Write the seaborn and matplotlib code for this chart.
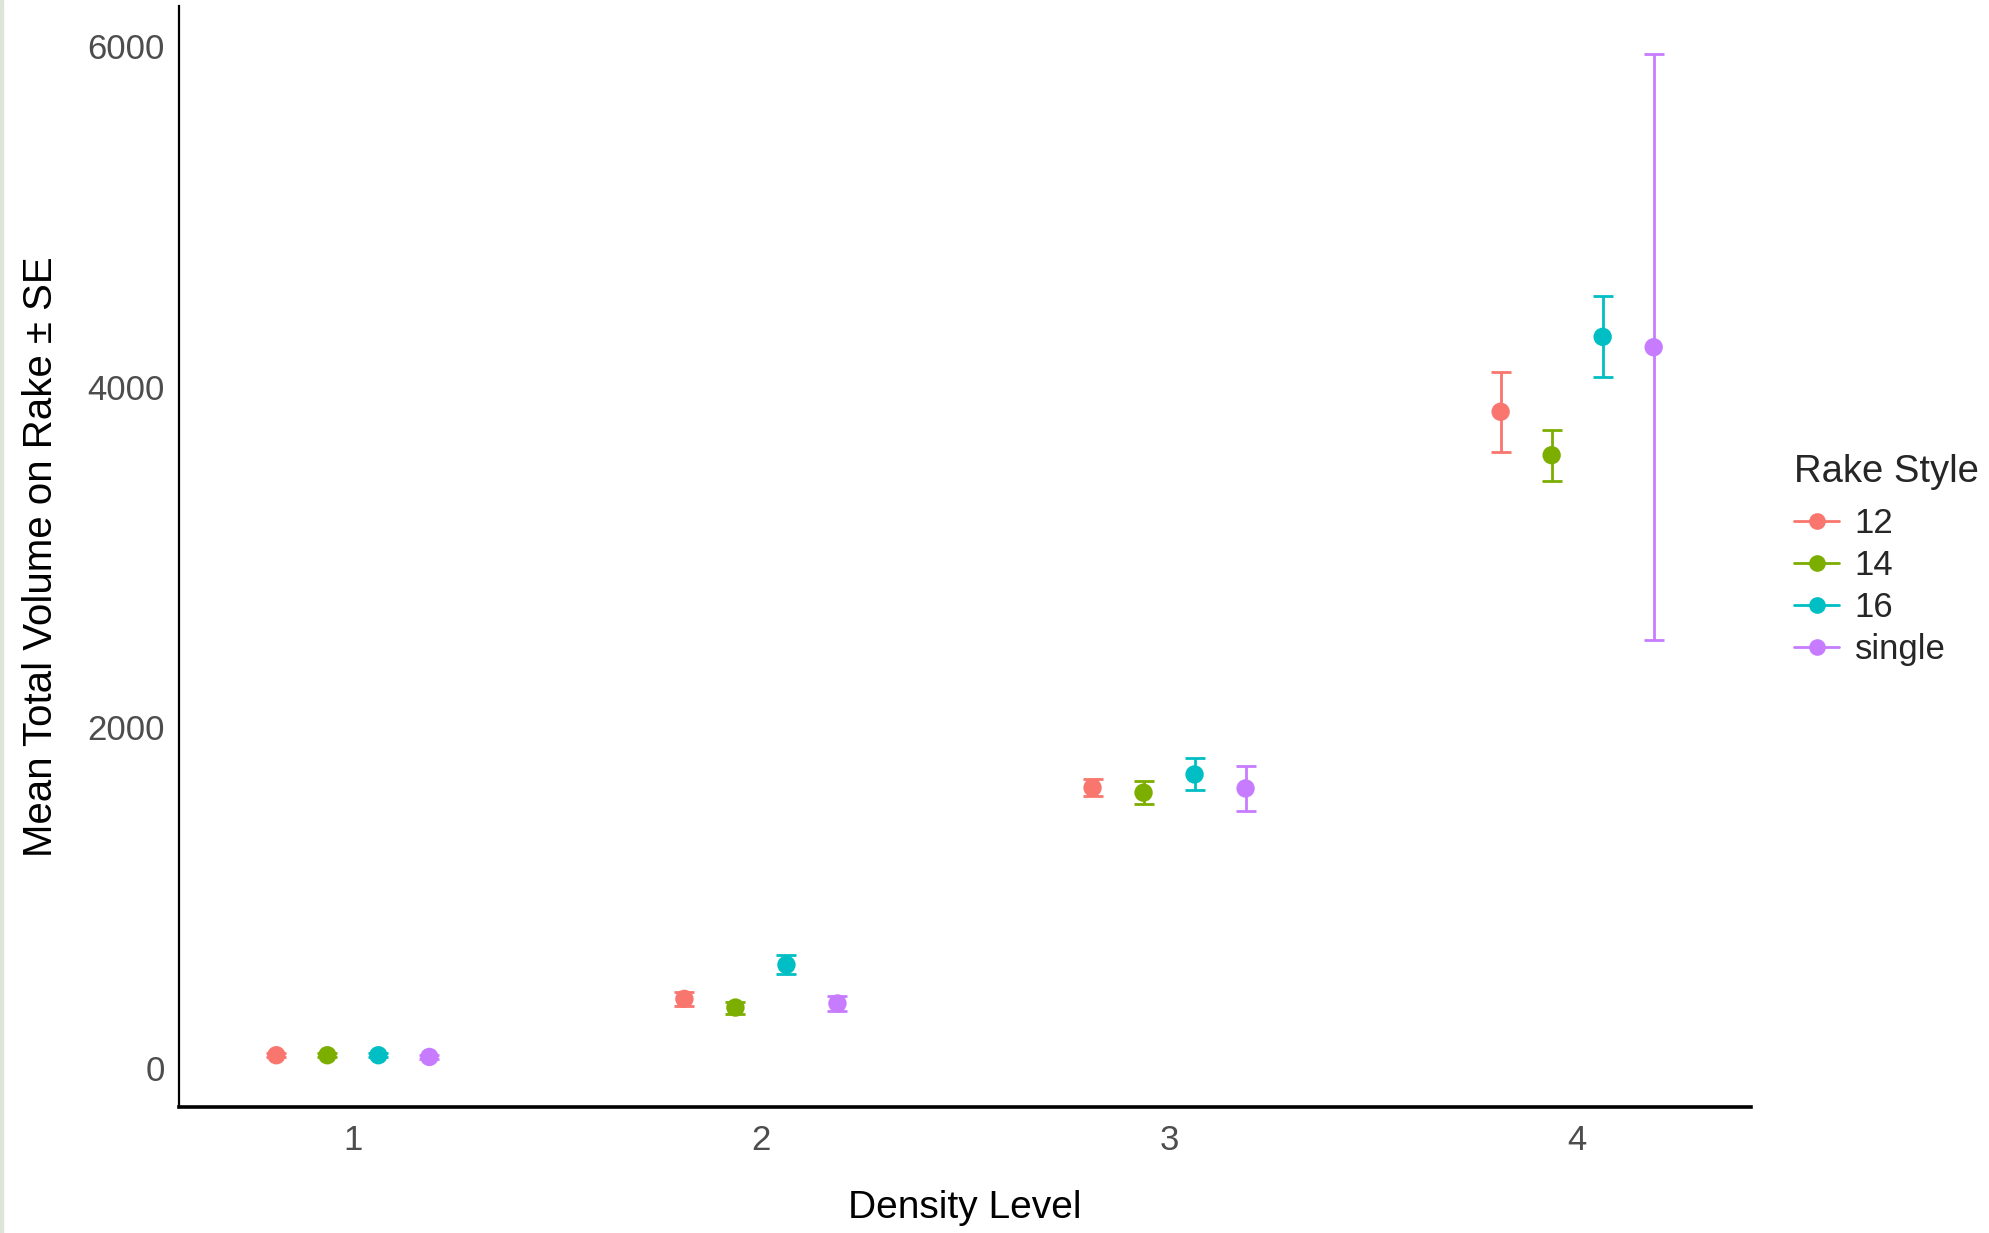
import matplotlib
matplotlib.use("Agg")
import matplotlib.pyplot as plt
from matplotlib.lines import Line2D
import seaborn as sns
import numpy as np
import pandas as pd

# ---- data ----
density_levels = [1, 2, 3, 4]
rake_styles = ["12", "14", "16", "single"]
mean_12 = [73, 404, 1644, 3852]
se_12 = [12, 40, 51, 236]
mean_14 = [73, 353, 1615, 3597]
se_14 = [12, 35, 68, 150]
mean_16 = [73, 604, 1722, 4292]
se_16 = [12, 55, 94, 237]
mean_single = [63, 377, 1640, 4231]
se_single = [10, 42, 134, 1721]
palette = ["#F8766D", "#7CAE00", "#00BFC4", "#C77CFF"]

means = {"12": mean_12, "14": mean_14, "16": mean_16, "single": mean_single}
ses = {"12": se_12, "14": se_14, "16": se_16, "single": se_single}

rows = []
dodge_width = 0.5
n = len(rake_styles)
for j, style in enumerate(rake_styles):
    offset = -dodge_width / 2 + dodge_width / n * (j + 0.5)
    for i, lvl in enumerate(density_levels):
        rows.append({"Density": lvl, "x": lvl + offset, "Style": style,
                     "mean": means[style][i], "se": ses[style][i]})
df = pd.DataFrame(rows)

sns.set_theme(style="white")
plt.rcParams["font.family"] = ["Liberation Sans", "DejaVu Sans"]

fig = plt.figure(figsize=(19.89, 12.33), dpi=100)
ax = fig.add_axes([179 / 1989, 1 - 1107 / 1233, (1751 - 179) / 1989, (1107 - 6) / 1233])

for style, color in zip(rake_styles, palette):
    sub = df[df["Style"] == style]
    ax.errorbar(sub["x"], sub["mean"], yerr=sub["se"], fmt="none",
                ecolor=color, elinewidth=2.0, capsize=7.5, capthick=2.0, zorder=2)

sns.scatterplot(data=df, x="x", y="mean", hue="Style", hue_order=rake_styles,
                palette=palette, s=175, edgecolor="none", legend=False, ax=ax, zorder=3)

ax.set_xlim(0.574, 4.426)
ax.set_ylim(-231, 6235)
ax.set_xticks(density_levels)
ax.set_xticklabels([str(v) for v in density_levels])
ax.set_yticks([0, 2000, 4000, 6000])
ax.tick_params(axis="both", length=0, labelsize=25, labelcolor="#4D4D4D")
ax.tick_params(axis="x", pad=12)
ax.tick_params(axis="y", pad=10)
ax.set_xlabel("Density Level", fontsize=28, color="black", labelpad=24)
ax.set_ylabel("Mean Total Volume on Rake ± SE", fontsize=29, color="black", labelpad=20)

for side in ["top", "right"]:
    ax.spines[side].set_visible(False)
ax.spines["left"].set_color("black")
ax.spines["left"].set_linewidth(1.6)
ax.spines["bottom"].set_color("black")
ax.spines["bottom"].set_linewidth(2.6)

handles = [Line2D([0], [0], color=c, lw=2.0, marker="o", markersize=12,
                  markeredgewidth=0) for c in palette]
leg = fig.legend(handles, rake_styles, title="Rake Style", loc="upper left",
                 bbox_to_anchor=(1794 / 1989, 1 - 454 / 1233), frameon=False,
                 fontsize=25, title_fontsize=27.5, handlelength=1.3,
                 handletextpad=0.45, labelspacing=0.26, borderaxespad=0,
                 borderpad=0)
leg._legend_box.align = "left"
leg._legend_box.sep = 12.2

# thin light strip at the left edge of the image
fig.add_artist(plt.Rectangle((0, 0), 3 / 1989, 1, transform=fig.transFigure,
                             color="#DDE5D8", zorder=0))

fig.savefig("out.png", dpi=100)
